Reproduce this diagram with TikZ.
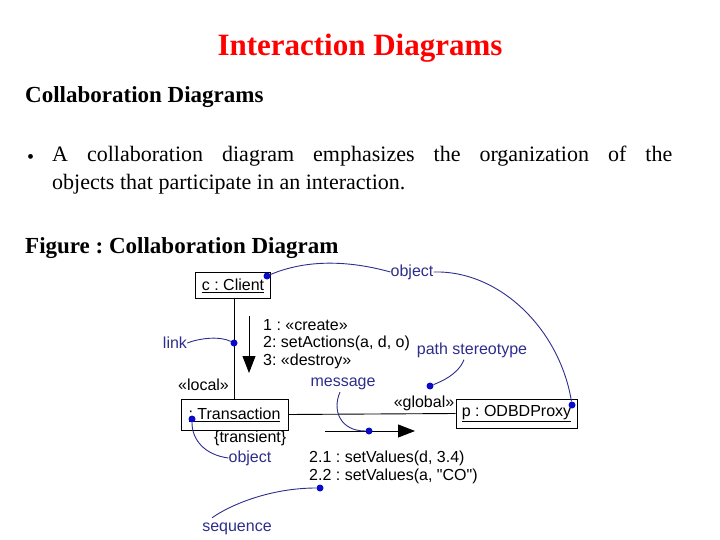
\documentclass[tikz,border=0pt]{standalone}
\usepackage{fontspec}
\setmainfont{Liberation Serif}
\setsansfont[Ligatures=TeXOff]{Liberation Sans}
\usetikzlibrary{arrows.meta}
\definecolor{ann}{RGB}{45,45,140}
\definecolor{dotc}{RGB}{10,10,200}
\tikzset{
  box/.style={draw,line width=0.9pt,inner sep=0pt,font=\sffamily\fontsize{16}{18}\selectfont},
  lbl/.style={font=\sffamily\fontsize{16}{18}\selectfont,inner sep=0pt},
  note/.style={font=\sffamily\fontsize{16}{18}\selectfont,text=ann,inner sep=0pt},
  lead/.style={draw=ann,line width=0.9pt},
  dotn/.style={circle,fill=dotc,inner sep=0pt,minimum size=7pt},
}
\begin{document}
\frenchspacing
\begin{tikzpicture}[x=1pt,y=-1pt]
\useasboundingbox (0,0) rectangle (720,540);
\node[text=red,font=\bfseries\fontsize{31}{34}\selectfont] (title) at (360,48) {Interaction Diagrams};
\node[anchor=west,font=\bfseries\fontsize{23}{26}\selectfont,inner sep=0pt] (sub) at (25,97) {Collaboration Diagrams};
\node[anchor=west,font=\fontsize{20}{28}\selectfont,inner sep=0pt] (bul) at (27,159) {•};
\node[anchor=north west,font=\fontsize{22}{28}\selectfont,inner sep=0pt,text width=620pt,align=justify] (para) at (52,146) {A collaboration diagram emphasizes the organization of the\linebreak objects that participate in an interaction.};
\node[anchor=west,font=\bfseries\fontsize{23}{26}\selectfont,inner sep=0pt] (fig) at (25,248) {Figure : Collaboration Diagram};

% boxes
\node[box,minimum width=75pt,minimum height=26pt] (client) at (233,285.5) {\underline{c : Client}};
\node[box,minimum width=107pt,minimum height=31pt] (trans) at (234.5,414.5) {\underline{: Transaction}};
\node[box,minimum width=121pt,minimum height=29pt] (proxy) at (516.5,413.5) {\underline{p : ODBDProxy}};

% links
\draw[line width=0.9pt] (client.south -| 234,0) -- (trans.north -| 234,0);
\draw[line width=0.9pt] (trans.east) -- (proxy.west);

% message arrows
\coordinate (a1s) at (249,316); \coordinate (a1e) at (249,373);
\draw[line width=0.9pt,-{Triangle[length=17pt,width=13pt]}] (a1s) -- (a1e);
\coordinate (a2s) at (325,431); \coordinate (a2e) at (415,431);
\draw[line width=0.9pt,-{Triangle[length=17pt,width=13pt]}] (a2s) -- (a2e);

% labels
\node[lbl,anchor=west] (m1) at (263,325) {1 : «create»};
\node[lbl,anchor=west] (m2) at (263,343) {2: setActions(a, d, o)};
\node[lbl,anchor=west] (m3) at (263,361) {3: «destroy»};
\node[lbl,anchor=west] (loc) at (178,385) {«local»};
\node[lbl] (glob) at (424,403) {«global»};
\node[lbl,anchor=west] (tr) at (214,438) {\{transient\}};
\node[lbl,anchor=west] (s1) at (309,458) {2.1 : setValues(d, 3.4)};
\node[lbl,anchor=west] (s2) at (309,476) {2.2 : setValues(a, "CO")};

% annotations
\node[note] (objtop) at (412,272) {object};
\node[note] (link) at (175,343) {link};
\node[note] (ps) at (472,350) {path stereotype};
\node[note] (msg) at (343,384) {message};
\node[note] (objb) at (250,458) {object};
\node[note] (seq) at (237,529) {sequence};

% dots
\node[dotn] (d1) at (267,276) {};
\node[dotn] (d2) at (572,405) {};
\node[dotn] (d3) at (234,343) {};
\node[dotn] (d4) at (430,386) {};
\node[dotn] (d5) at (369,431) {};
\node[dotn] (d6) at (192,419) {};
\node[dotn] (d7) at (320,488) {};

% leader curves
\draw[lead] (d1) .. controls (300,262) and (340,258) .. (objtop.west);
\draw[lead] (objtop.east) .. controls (500,270) and (560,330) .. (d2);
\draw[lead] (link.east) .. controls (200,338) and (220,336) .. (d3);
\draw[lead] (ps.south) ++(-8,2) .. controls (458,375) and (440,382) .. (d4);
\draw[lead] (msg.south) ++(-3,2) .. controls (332,410) and (340,431) .. (d5);
\draw[lead] (d6) .. controls (192,440) and (205,455) .. (objb.west);
\draw[lead] (seq.north) ++(-25,-5) .. controls (230,505) and (270,488) .. (d7);
\end{tikzpicture}
\end{document}
